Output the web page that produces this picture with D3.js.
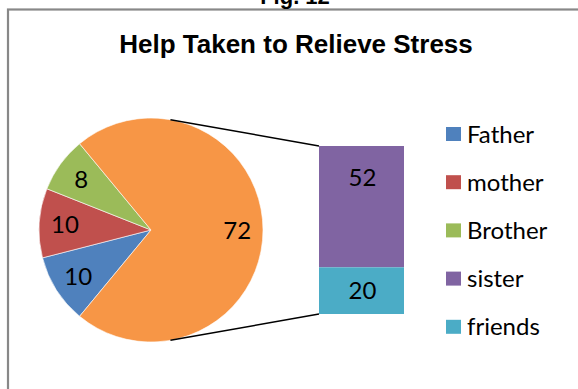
<!DOCTYPE html>
<html>
<head>
<meta charset="utf-8">
<script src="https://cdn.jsdelivr.net/npm/d3@7"></script>
<style>
  html, body { margin: 0; padding: 0; background: #fff; }
  svg { display: block; }
</style>
</head>
<body>
<svg id="chart" width="578" height="389"></svg>
<script>
// Primary pie slices (the last one is split out into the stacked bar)
const pieCategories = ["Father", "mother", "Brother"];
const pieValues = [10, 10, 8];
// Secondary bar breakdown
const barCategories = ["sister", "friends"];
const barValues = [52, 20];
const legendLabels = ["Father", "mother", "Brother", "sister", "friends"];
const colors = ["#4F81BD", "#C0504D", "#9BBB59", "#8064A2", "#4BACC6"];
const otherColor = "#F79646";

const titleText = "Help Taken to Relieve Stress";
const figText = "Fig. 12";

const svg = d3.select("#chart");
const W = 578, H = 389;

// chart frame (continues past the right and bottom edges)
svg.append("rect")
  .attr("x", 8).attr("y", 9.5)
  .attr("width", W + 10).attr("height", H + 10)
  .attr("fill", "#fff")
  .attr("stroke", "#888").attr("stroke-width", 2.2);

svg.append("text")
  .attr("x", 295).attr("y", 4)
  .attr("text-anchor", "middle")
  .attr("font-family", "Liberation Sans, Arial, sans-serif")
  .attr("font-weight", "bold").attr("font-size", 22)
  .text(figText);

svg.append("text")
  .attr("x", 296).attr("y", 53)
  .attr("text-anchor", "middle")
  .attr("font-family", "Liberation Sans, Arial, sans-serif")
  .attr("font-weight", "bold").attr("font-size", 26)
  .attr("fill", "#000")
  .text(titleText);

// ---- pie ----
const cx = 151, cy = 230, R = 112;
const otherTotal = d3.sum(barValues);
const total = d3.sum(pieValues) + otherTotal;
const pieData = pieValues.map((v, i) => ({ name: pieCategories[i], value: v, color: colors[i] }))
  .concat([{ name: "other", value: otherTotal, color: otherColor }]);

// the "other" slice is centred on the right, facing the bar
const otherSpan = otherTotal / total * 2 * Math.PI;
const otherStart = Math.PI / 2 - otherSpan / 2;
const start = otherStart - (1 - otherTotal / total) * 2 * Math.PI;

const pie = d3.pie().value(d => d.value).sort(null)
  .startAngle(start).endAngle(start + 2 * Math.PI);
const arcs = pie(pieData);
const arc = d3.arc().innerRadius(0).outerRadius(R);

const gPie = svg.append("g").attr("transform", `translate(${cx},${cy})`);
gPie.selectAll("path.slice").data(arcs).join("path")
  .attr("class", "slice")
  .attr("d", arc)
  .attr("fill", d => d.data.color)
  .attr("stroke", "#fff").attr("stroke-width", 0.6);

gPie.selectAll("text.lbl").data(arcs).join("text")
  .attr("class", "lbl")
  .attr("transform", d => {
    const a = (d.startAngle + d.endAngle) / 2;
    const r = 0.77 * R;
    return `translate(${r * Math.sin(a)},${-r * Math.cos(a)})`;
  })
  .attr("text-anchor", "middle").attr("dy", "0.36em")
  .attr("font-family", "Lato, sans-serif").attr("font-size", 24)
  .attr("fill", "#000")
  .text(d => d.value);

// ---- stacked bar ----
const barX = 319, barW = 85;
const yBar = d3.scaleLinear().domain([0, otherTotal]).range([314, 146]);
let acc = 0;
const stack = barValues.map((v, i) => {
  // first category sits on top
  const top = otherTotal - acc;
  acc += v;
  return { name: barCategories[i], value: v, y0: top - v, y1: top, color: colors[3 + i] };
});
const gBar = svg.append("g");
gBar.selectAll("rect").data(stack).join("rect")
  .attr("x", barX).attr("width", barW)
  .attr("y", d => yBar(d.y1))
  .attr("height", d => yBar(d.y0) - yBar(d.y1))
  .attr("fill", d => d.color);
gBar.selectAll("text").data(stack).join("text")
  .attr("x", barX + barW / 2 + 1)
  .attr("y", d => (yBar(d.y0) + yBar(d.y1)) / 2 + (d.value > 40 ? -(yBar(d.y0) - yBar(d.y1)) / 2 + 31 : 0))
  .attr("dy", "0.36em")
  .attr("text-anchor", "middle")
  .attr("font-family", "Lato, sans-serif").attr("font-size", 24)
  .text(d => d.value);

// ---- connector lines ----
const connAngle = 10 * Math.PI / 180;
const conn = [
  { a: connAngle, by: yBar(otherTotal) },
  { a: Math.PI - connAngle, by: yBar(0) }
];
svg.selectAll("line.conn").data(conn).join("line")
  .attr("class", "conn")
  .attr("x1", d => cx + R * Math.sin(d.a))
  .attr("y1", d => cy - R * Math.cos(d.a))
  .attr("x2", barX).attr("y2", d => d.by)
  .attr("stroke", "#000").attr("stroke-width", 1.5);

// ---- legend ----
const legend = svg.append("g").attr("transform", "translate(446,127)");
const items = legend.selectAll("g").data(legendLabels).join("g")
  .attr("transform", (d, i) => `translate(0,${i * 48.2})`);
items.append("rect").attr("width", 15).attr("height", 14)
  .attr("fill", (d, i) => colors[i]);
items.append("text").attr("x", 21).attr("y", 7).attr("dy", "0.36em")
  .attr("font-family", "Lato, sans-serif").attr("font-size", 24)
  .text(d => d);
</script>
</body>
</html>
